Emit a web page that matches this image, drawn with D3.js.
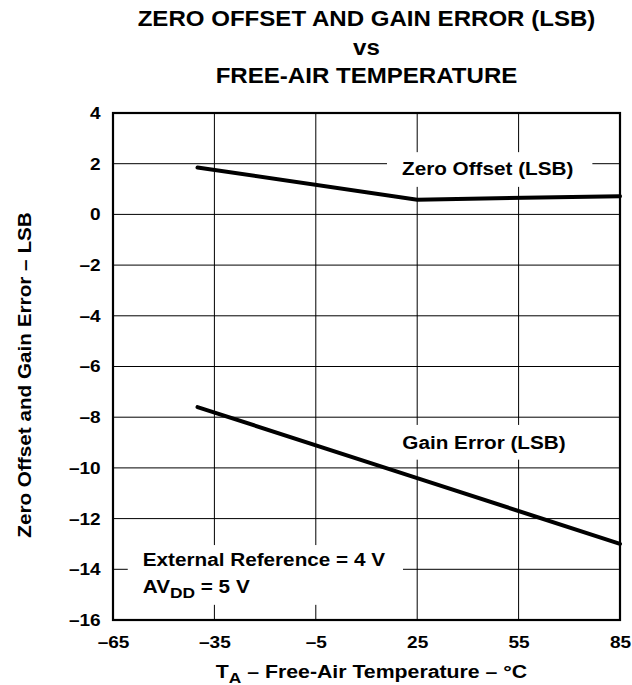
<!DOCTYPE html>
<html>
<head>
<meta charset="utf-8">
<script src="https://cdn.jsdelivr.net/npm/d3@7"></script>
<style>
  body { margin: 0; background: #fff; }
  text { font-family: "Liberation Sans", Arial, sans-serif; font-weight: bold; fill: #000; }
</style>
</head>
<body>
<div id="chart"></div>
<script>
// Data
const temps = [-40, 25, 85];
const zeroOffset = [1.85, 0.58, 0.72];
const gainError = [-7.6, -10.4, -13.0];
const xTicks = [-65, -35, -5, 25, 55, 85];
const yTicks = [4, 2, 0, -2, -4, -6, -8, -10, -12, -14, -16];
const titleLines = ["ZERO OFFSET AND GAIN ERROR (LSB)", "vs", "FREE-AIR TEMPERATURE"];

const W = 632, H = 685;
const margin = { top: 113, right: 12, bottom: 65, left: 113 };
const width = W - margin.left - margin.right;
const height = H - margin.top - margin.bottom;
const sx = 1.12; // the source type is a bit wider than Arial

const svg = d3.select("#chart").append("svg")
  .attr("width", W)
  .attr("height", H);

const g = svg.append("g")
  .attr("transform", `translate(${margin.left},${margin.top})`);

const x = d3.scaleLinear().domain([-65, 85]).range([0, width]);
const y = d3.scaleLinear().domain([-16, 4]).range([height, 0]);

const fmt = (d) => (d < 0 ? "\u2013" + Math.abs(d) : String(d));

// Title
svg.append("g").selectAll("text")
  .data(titleLines)
  .join("text")
  .attr("transform", (d, i) => `translate(${margin.left + width / 2},${[26, 55, 83][i]}) scale(${sx},1)`)
  .attr("text-anchor", "middle")
  .style("font-size", "21.5px")
  .text((d) => d);

// Grid
g.append("g")
  .selectAll("line")
  .data(xTicks.slice(1, -1))
  .join("line")
  .attr("x1", (d) => x(d)).attr("x2", (d) => x(d))
  .attr("y1", 0).attr("y2", height)
  .attr("stroke", "#000").attr("stroke-width", 1);

g.append("g")
  .selectAll("line")
  .data(yTicks.slice(1, -1))
  .join("line")
  .attr("x1", 0).attr("x2", width)
  .attr("y1", (d) => y(d)).attr("y2", (d) => y(d))
  .attr("stroke", "#000").attr("stroke-width", 1);

// Axes (labels only, frame drawn separately)
const xAxis = g.append("g")
  .attr("transform", `translate(0,${height})`)
  .call(d3.axisBottom(x).tickValues(xTicks).tickSize(0).tickPadding(16).tickFormat(fmt));
const yAxis = g.append("g")
  .call(d3.axisLeft(y).tickValues(yTicks).tickSize(0).tickPadding(11).tickFormat(fmt));
[xAxis, yAxis].forEach((a) => {
  a.select(".domain").remove();
  a.selectAll("text")
    .attr("transform", `scale(${sx},1)`)
    .style("font-size", "17px");
});
xAxis.attr("font-family", null);
yAxis.attr("font-family", null);

// Labels inside plot, with white boxes that break the grid
const boxes = g.append("g");
const linesG = g.append("g");
const labels = g.append("g");

function boxedLabel(tx, ty, lines, padX, padY) {
  const px = x(tx), py = y(ty);
  const tg = labels.append("g").attr("transform", `translate(${px},${py}) scale(${sx},1)`);
  const t = tg.append("text").style("font-size", "18.5px");
  lines.forEach((parts, i) => {
    parts.forEach((p, j) => {
      const span = t.append("tspan").text(p.t);
      if (j === 0) span.attr("x", 0).attr("dy", i === 0 ? 0 : 27);
      if (p.sub) span.attr("dy", 5).style("font-size", "15.5px");
      if (p.back) span.attr("dy", -5);
    });
  });
  const b = t.node().getBBox();
  boxes.append("rect")
    .attr("fill", "#fff")
    .attr("x", px + b.x * sx - padX[0])
    .attr("y", py + b.y - padY[0])
    .attr("width", b.width * sx + padX[0] + padX[1])
    .attr("height", b.height + padY[0] + padY[1]);
}

boxedLabel(20.5, 1.55, [[{ t: "Zero Offset (LSB)" }]], [15, 19], [6, 8]);
boxedLabel(20.6, -9.25, [[{ t: "Gain Error (LSB)" }]], [15, 19], [7, 7]);
boxedLabel(-56.2, -13.87,
  [[{ t: "External Reference = 4 V" }],
   [{ t: "AV" }, { t: "DD", sub: true }, { t: " = 5 V", back: true }]],
  [15, 18], [4, 4]);

// Data lines
const line = d3.line()
  .x((d) => x(d[0]))
  .y((d) => y(d[1]));

[zeroOffset, gainError].forEach((vals) => {
  linesG.append("path")
    .datum(temps.map((t, i) => [t, vals[i]]))
    .attr("fill", "none")
    .attr("stroke", "#000")
    .attr("stroke-width", 4)
    .attr("stroke-linecap", "round")
    .attr("d", line);
});

// Frame
g.append("rect")
  .attr("width", width).attr("height", height)
  .attr("fill", "none").attr("stroke", "#000").attr("stroke-width", 2.2);

// Axis titles
const xt = svg.append("text")
  .attr("transform", `translate(${margin.left + width / 2 + 5},678) scale(${sx},1)`)
  .attr("text-anchor", "middle")
  .style("font-size", "19px");
xt.append("tspan").text("T");
xt.append("tspan").attr("dy", 5).style("font-size", "15.5px").text("A");
xt.append("tspan").attr("dy", -5).text(" \u2013 Free-Air Temperature \u2013 \u00b0C");

svg.append("text")
  .attr("transform", `translate(31,375) rotate(-90) scale(${sx},1)`)
  .attr("text-anchor", "middle")
  .style("font-size", "18.5px")
  .text("Zero Offset and Gain Error \u2013 LSB");
</script>
</body>
</html>
